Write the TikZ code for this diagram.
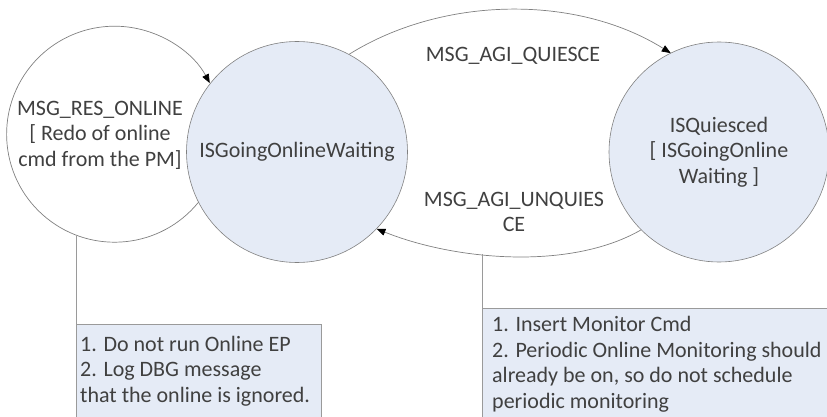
\documentclass[tikz,border=0pt]{standalone}
\usepackage{fontspec}
\setmainfont{Carlito}
\usetikzlibrary{arrows.meta}
\definecolor{txt}{HTML}{404040}
\definecolor{stfill}{HTML}{E5EBF6}
\definecolor{edgec}{HTML}{808080}
\definecolor{boxline}{HTML}{9A9A9A}
\begin{document}
\begin{tikzpicture}[x=1pt,y=1pt,
  font=\fontsize{22}{25.5}\selectfont, text=txt,
  state/.style={circle, draw=edgec, fill=stfill, minimum size=221pt, inner sep=0pt, outer sep=0pt, align=center, line width=0.6pt},
  trans/.style={draw=edgec, line width=0.7pt, -{Triangle[length=9pt,width=7pt,black]}},
  lbl/.style={align=center, inner sep=0pt},
  notebox/.style={draw=boxline, fill=stfill, line width=0.7pt, inner sep=0pt, anchor=north west},
  notetext/.style={align=left, inner sep=0pt, anchor=north west},
  annot/.style={draw=boxline, line width=0.8pt}]
\useasboundingbox (0,0) rectangle (827,416);
% boxes
\node[notebox, minimum width=245pt, minimum height=100pt] (lbox) at (76,92) {};
\node[notebox, minimum width=360pt, minimum height=120pt] (rbox) at (482,108) {};
\node[notetext] (ltext) at (80,80) {1. Do not run Online EP\\2. Log DBG message\\that the online is ignored.};
\node[notetext] (rtext) at (492,99.5) {1. Insert Monitor Cmd\\2. Periodic Online Monitoring should\\already be on, so do not schedule\\periodic monitoring};
% states
\coordinate (lc) at (115,281);
\node[state] (g) at (297,264) {ISGoingOnlineWaiting};
\node[state, minimum size=220pt] (q) at (719,264) {ISQuiesced\\{[} ISGoingOnline\\Waiting ]};
% self loop
\draw[trans] (g.207.5) arc[start angle=-39, end angle=-331.8, radius=108];
\node[lbl] (loopl) at (100,281) {MSG\_RES\_ONLINE\\{[} Redo of online\\cmd from the PM]};
% transitions
\draw[trans] (g.62) to[out=32, in=148, looseness=0.88] (q.116);
\draw[trans] (q.225) to[out=210, in=-22, looseness=0.8] coordinate[pos=0.6] (u) (g.316);
\node[lbl] (ql) at (513,360) {MSG\_AGI\_QUIESCE};
\node[lbl] (ul) at (514,204) {MSG\_AGI\_UNQUIES\\CE};
% annotation lines
\path (lc) ++(248.8:108) coordinate (la);
\draw[annot] (la) -- (la |- lbox.north);
\draw[annot] (u) -- (u |- rbox.north);
\end{tikzpicture}
\end{document}
